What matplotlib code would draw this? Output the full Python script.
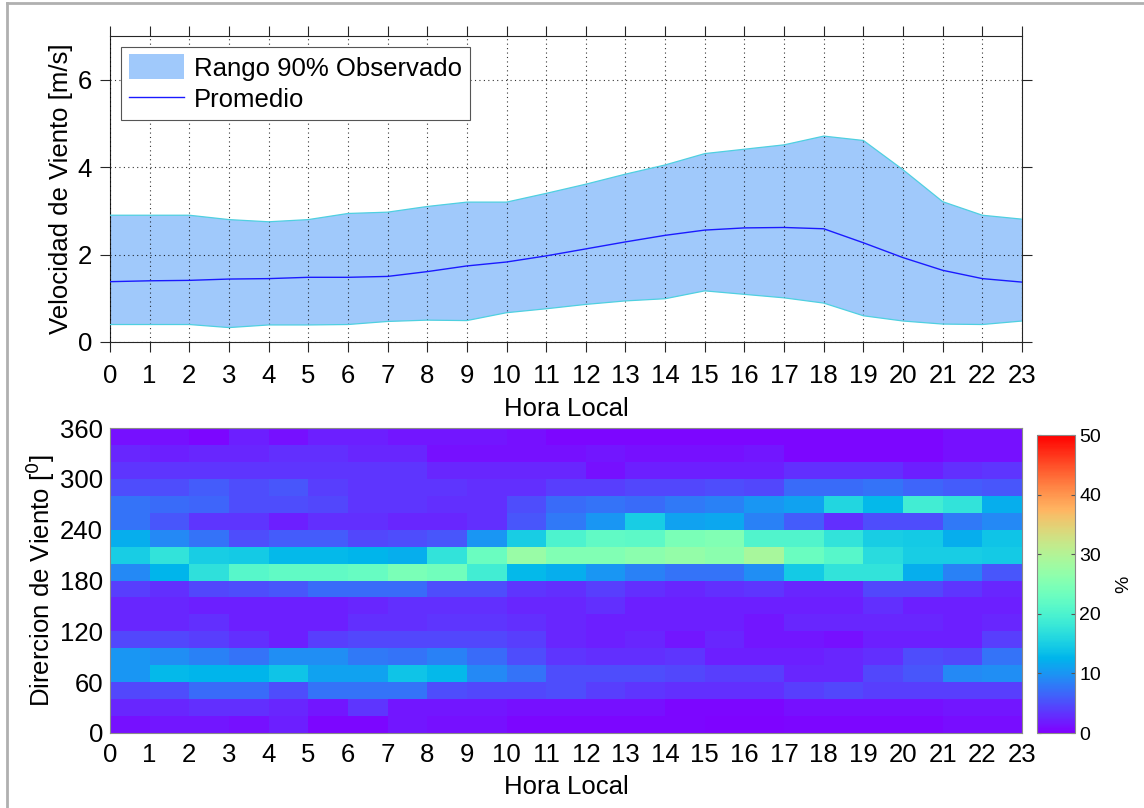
import numpy as np
import matplotlib
matplotlib.use("Agg")
import matplotlib.pyplot as plt
from matplotlib.lines import Line2D
from matplotlib.patches import Patch

plt.rcParams['font.family'] = ['Liberation Sans', 'DejaVu Sans']

# ---------------- data ----------------
hours = list(range(24))
upper_p95 = [2.90, 2.90, 2.90, 2.80, 2.75, 2.80, 2.94, 2.97, 3.10, 3.20, 3.20, 3.40,
             3.61, 3.84, 4.05, 4.31, 4.41, 4.51, 4.71, 4.61, 3.94, 3.21, 2.90, 2.81]
lower_p05 = [0.40, 0.40, 0.40, 0.33, 0.39, 0.39, 0.40, 0.47, 0.50, 0.49, 0.67, 0.76,
             0.86, 0.94, 0.99, 1.17, 1.09, 1.01, 0.89, 0.60, 0.48, 0.41, 0.40, 0.48]
mean_speed = [1.38, 1.40, 1.41, 1.44, 1.45, 1.48, 1.48, 1.50, 1.61, 1.74, 1.83, 1.97,
              2.13, 2.29, 2.44, 2.56, 2.61, 2.62, 2.59, 2.27, 1.93, 1.64, 1.45, 1.37]

dir_edges = list(range(0, 361, 20))
dir_ticks = [0, 60, 120, 180, 240, 300, 360]

# frequency (%) rows from 0-20 deg (bottom) up to 340-360 deg (top); 23 columns (hour bins)
f000 = [1, 1.5, 1.5, 1, 2, 0.5, 0.5, 1.5, 1, 1, 0.5, 0.5, 0.5, 0.5, 0.5, 0.3, 0.3, 0.5, 0.5, 0.5, 0.5, 0.8, 0.8]
f020 = [2.5, 2.5, 3, 3, 2.5, 1.5, 3.5, 1.5, 1.5, 1.5, 1, 1, 1, 1, 0.5, 0.5, 0.5, 1, 1, 1, 1, 1.5, 1.5]
f040 = [4.5, 5, 7, 7, 5, 7.5, 7.5, 7.5, 5, 4.5, 4.5, 5, 4, 3.5, 3, 3, 3, 4, 4.5, 4, 4, 4, 4]
f060 = [10, 13, 12.5, 12.5, 14, 11, 11, 14, 13, 9, 7.5, 5, 5, 5, 4.5, 4, 4, 2.5, 2.5, 4.5, 5.5, 9, 9.5]
f080 = [10, 9.5, 8.5, 7.5, 9.5, 9.5, 8, 7.5, 8.5, 7, 5, 3.5, 3, 3, 3.5, 2, 2, 2, 2.5, 3, 5, 4.5, 7.5]
f100 = [4.5, 4.5, 4, 3, 2, 4, 4.5, 4.5, 4.5, 4.5, 4, 2.5, 2, 2.5, 1.5, 2.5, 1.5, 1.5, 1, 2, 2, 2, 4]
f120 = [2.5, 2.5, 3, 2, 2, 2, 3, 3, 3.5, 3.5, 3, 2.5, 2, 2, 2, 2, 1.5, 2.5, 2.5, 2.5, 2.5, 2, 2.5]
f140 = [2.5, 2.5, 2, 2, 2, 2, 2.5, 3, 3, 3, 2.5, 2.5, 3, 2, 2, 2, 2, 2, 2, 3, 2, 2, 2]
f160 = [4, 3, 4.5, 5, 5.5, 7, 7, 7, 5, 5, 3.5, 3, 4, 3, 2.5, 3, 3.5, 2.5, 2.5, 4.5, 4.5, 3.5, 2.5]
f180 = [9, 12.5, 17, 21, 22, 22, 22.5, 24.5, 23.5, 19, 13, 12, 10, 8.5, 7.5, 7.5, 9.5, 14.5, 17.5, 17.5, 12, 8.5, 5.5]
f200 = [15, 17.5, 15, 14.5, 13, 13, 12.5, 12, 17.5, 23, 27.5, 25, 25, 26, 27, 26, 29, 23, 21, 16.5, 15, 15, 14.5]
f220 = [12, 9, 7.5, 5, 6, 6, 4.5, 5, 5.5, 10, 15, 20, 22, 21.5, 24.5, 25, 20.5, 20.5, 17.5, 15, 14.5, 12, 14]
f240 = [7.5, 5.5, 3.5, 3.5, 2, 3, 3, 2.5, 2.5, 3, 5.5, 8, 10, 15, 11, 11.5, 8.5, 6, 3, 5, 5, 8, 9]
f260 = [7.5, 7, 6.5, 5, 5, 4.5, 3.5, 3.5, 3, 3, 5, 7, 7.5, 7, 8, 8.5, 10, 11, 16, 13, 19, 17.5, 12]
f280 = [5, 5, 6, 5, 5.5, 4, 3.5, 3.5, 3.5, 3, 3, 4, 4, 4.5, 4.5, 5, 4.5, 7, 7, 7.5, 6.5, 6, 5.5]
f300 = [3.5, 3.5, 3.5, 3.5, 3.5, 3.5, 3.5, 3.5, 2.5, 2.5, 2.5, 2.5, 1, 2, 2, 2, 2, 3, 3, 3, 2, 3, 3.5]
f320 = [2.5, 2, 2.5, 2.5, 3, 3, 2.5, 2.5, 1, 1, 1, 1, 1.5, 1, 1, 1, 1.5, 0.5, 0.5, 0.5, 0.5, 1, 1]
f340 = [1, 1, 0.5, 2, 1, 2, 2, 1.5, 1.5, 1.5, 1, 0.5, 0.5, 0.5, 0.5, 0.5, 0.5, 0.5, 0.5, 0.5, 0.5, 1, 1]

freq = np.array([f000, f020, f040, f060, f080, f100, f120, f140, f160,
                 f180, f200, f220, f240, f260, f280, f300, f320, f340])

# ---------------- figure ----------------
W, H = 1144, 808
fig = plt.figure(figsize=(W / 100, H / 100), dpi=100)
fig.patch.set_facecolor('white')

def ax_rect(l, t, r, b):
    return [l / W, 1 - b / H, (r - l) / W, (b - t) / H]

FS = 18.5
spine_col = '#262626'

# frame lines of the figure window
fig.add_artist(Line2D([7 / W, 7 / W], [0, 1 - 3 / H], color='#b0b0b0', lw=2))
fig.add_artist(Line2D([7 / W, 1], [1 - 3 / H, 1 - 3 / H], color='#b0b0b0', lw=2))

# ---- top panel ----
ax1 = fig.add_axes(ax_rect(110, 36, 1022, 342))
ax1.fill_between(hours, lower_p05, upper_p95, facecolor='#a0c9fb', edgecolor='none', zorder=2)
ax1.plot(hours, upper_p95, color='#4fd0e0', lw=0.9, zorder=3)
ax1.plot(hours, lower_p05, color='#4fd0e0', lw=0.9, zorder=3)
ax1.plot(hours, mean_speed, color='#1a1aff', lw=1.0, zorder=4)
ax1.set_xlim(0, 23)
ax1.set_ylim(0, 7)
ax1.set_xticks(hours)
ax1.set_yticks([0, 2, 4, 6])
ax1.grid(True, linestyle=(0, (1, 3)), color='black', lw=0.8, alpha=0.8)
ax1.set_axisbelow(False)
ax1.tick_params(direction='out', length=7, width=0.8, labelsize=FS, top=True, right=True,
                labeltop=False, labelright=False, color=spine_col)
ax1.tick_params(axis='x', pad=9)
ax1.tick_params(axis='y', pad=6)
for s in ax1.spines.values():
    s.set_color(spine_col)
    s.set_linewidth(0.8)
ax1.set_xlabel('Hora Local', fontsize=FS, labelpad=6)
ax1.set_ylabel('Velocidad de Viento [m/s]', fontsize=FS, labelpad=3)

leg_handles = [Patch(facecolor='#a0c9fb', edgecolor='none'),
               Line2D([], [], color='#1a1aff', lw=1.0)]
leg = ax1.legend(leg_handles, ['Rango 90% Observado', 'Promedio'], loc='upper left',
                 fontsize=FS, fancybox=False, framealpha=1, edgecolor='#555555',
                 handlelength=2.15, handleheight=1.1, borderaxespad=0.42,
                 handletextpad=0.4, labelspacing=0.22, borderpad=0.3)
leg.get_frame().set_linewidth(0.8)
leg.set_zorder(10)

# ---- bottom panel ----
ax2 = fig.add_axes(ax_rect(110, 428, 1022, 733))
mesh = ax2.pcolormesh(hours, dir_edges, freq, cmap='rainbow', vmin=0, vmax=50,
                      shading='flat')
ax2.set_xlim(0, 23)
ax2.set_ylim(0, 360)
ax2.set_xticks(hours)
ax2.set_yticks(dir_ticks)
ax2.tick_params(length=0, labelsize=FS)
ax2.tick_params(axis='x', pad=7)
ax2.tick_params(axis='y', pad=5)
for s in ax2.spines.values():
    s.set_color('#8a8a8a')
    s.set_linewidth(0.8)
ax2.set_xlabel('Hora Local', fontsize=FS, labelpad=6)
ax2.set_ylabel(r'Dirercion de Viento [$^{0}$]', fontsize=FS, labelpad=2)

cax = fig.add_axes(ax_rect(1037, 435, 1075, 733))
cb = fig.colorbar(mesh, cax=cax, ticks=[0, 10, 20, 30, 40, 50])
cb.outline.set_edgecolor('#8a8a8a')
cb.outline.set_linewidth(0.8)
cax.tick_params(direction='in', length=3, width=0.8, labelsize=14, color='#555555', pad=3,
                left=True, right=True)
cb.set_label('%', fontsize=14, labelpad=10)

fig.savefig('out.png', dpi=100, facecolor='white')
